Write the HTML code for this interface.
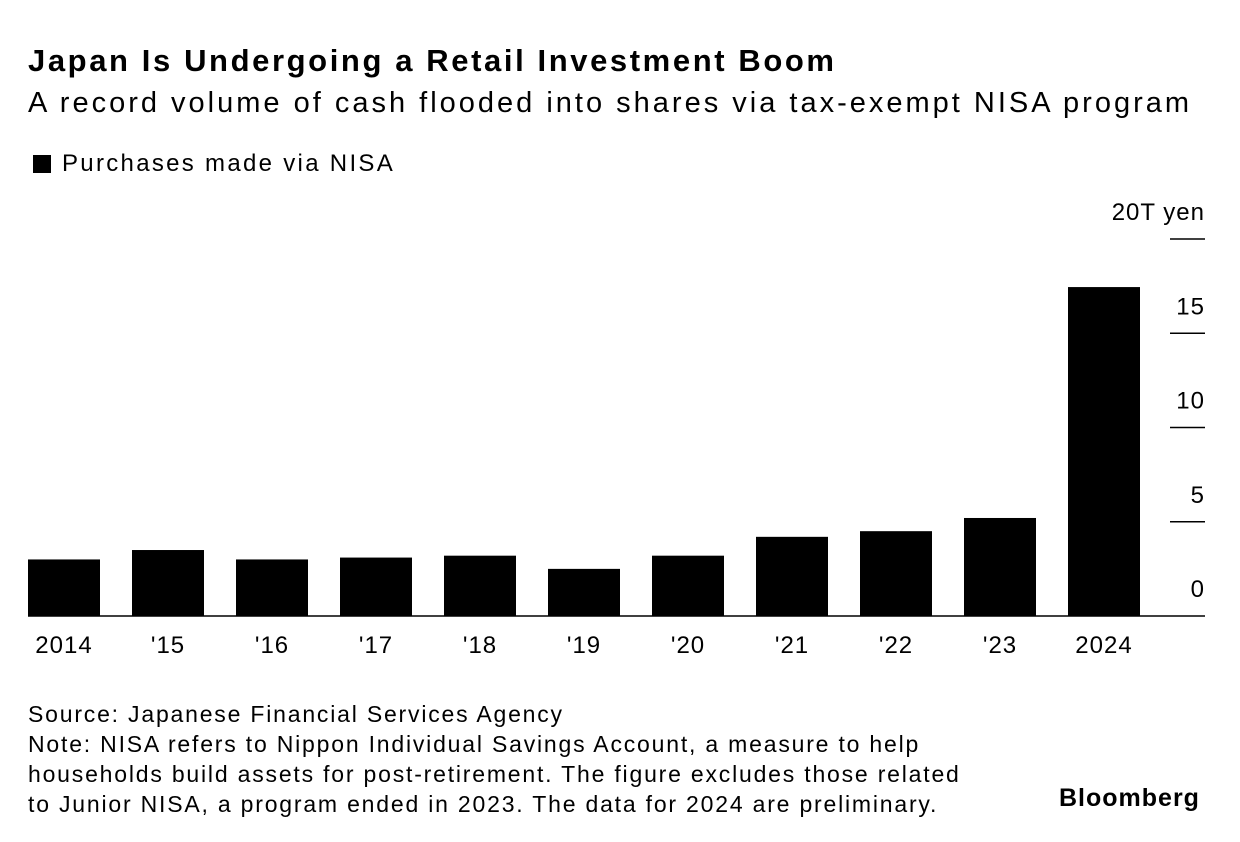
<!DOCTYPE html>
<html><head><meta charset="utf-8"><style>
body{margin:0;background:#fff;width:1240px;height:842px;overflow:hidden;font-family:"Liberation Sans",sans-serif;color:#000}
.t{position:absolute;white-space:nowrap}
</style></head><body>
<div class="t" style="left:28px;top:43px;font-size:31px;font-weight:bold;letter-spacing:2.6px">Japan Is Undergoing a Retail Investment Boom</div>
<div class="t" style="left:28px;top:87px;font-size:29px;letter-spacing:3px">A record volume of cash flooded into shares via tax-exempt NISA program</div>
<div style="position:absolute;left:33px;top:155px;width:18px;height:18px;background:#000"></div>
<div class="t" style="left:62px;top:150px;font-size:24px;letter-spacing:2.3px">Purchases made via NISA</div>
<svg id="chart" width="1240" height="842" style="position:absolute;left:0;top:0"></svg>
<div class="t" style="left:28px;top:699px;font-size:23px;line-height:30px;letter-spacing:1.8px">Source: Japanese Financial Services Agency<br>Note: NISA refers to Nippon Individual Savings Account, a measure to help<br>households build assets for post-retirement. The figure excludes those related<br>to Junior NISA, a program ended in 2023. The data for 2024 are preliminary.</div>
<div class="t" style="left:1059px;top:784px;font-size:25px;font-weight:bold;letter-spacing:1px">Bloomberg</div>
<script>
const categories=["2014","'15","'16","'17","'18","'19","'20","'21","'22","'23","2024"];
const values=[3.0,3.5,3.0,3.1,3.2,2.5,3.2,4.2,4.5,5.2,17.45];
const ticks=[0,5,10,15,20];
const tickLabels=["0","5","10","15","20T yen"];
const svg=document.getElementById('chart');
const NS="http://www.w3.org/2000/svg";
const y0=616,pxPer=18.85;
const y=v=>y0-v*pxPer;
const x=i=>28+i*104;
const bw=72;
function mk(tag,attrs){const e=document.createElementNS(NS,tag);for(const k in attrs)e.setAttribute(k,attrs[k]);svg.appendChild(e);return e;}
ticks.forEach((t,i)=>{
  if(t>0){const l=mk('line',{x1:1170,x2:1205,y1:y(t),y2:y(t),stroke:'#000','stroke-width':1.5});
  
  }
  const tx=mk('text',{x:1205,y:y(t)-19,'text-anchor':'end','font-size':24,'font-family':'Liberation Sans','letter-spacing':1});
  tx.textContent=tickLabels[i];
  
  
});
values.forEach((v,i)=>{
  const r=mk('rect',{x:x(i),y:y(v),width:bw,height:v*pxPer,fill:'#000'});
  
  
  const tx=mk('text',{x:x(i)+bw/2,y:653,'text-anchor':'middle','font-size':24,'font-family':'Liberation Sans','letter-spacing':1});
  tx.textContent=categories[i];
  
  
});
const base=mk('line',{x1:28,x2:1205,y1:y0,y2:y0,stroke:'#000','stroke-width':1.5});


</script>
</body></html>
